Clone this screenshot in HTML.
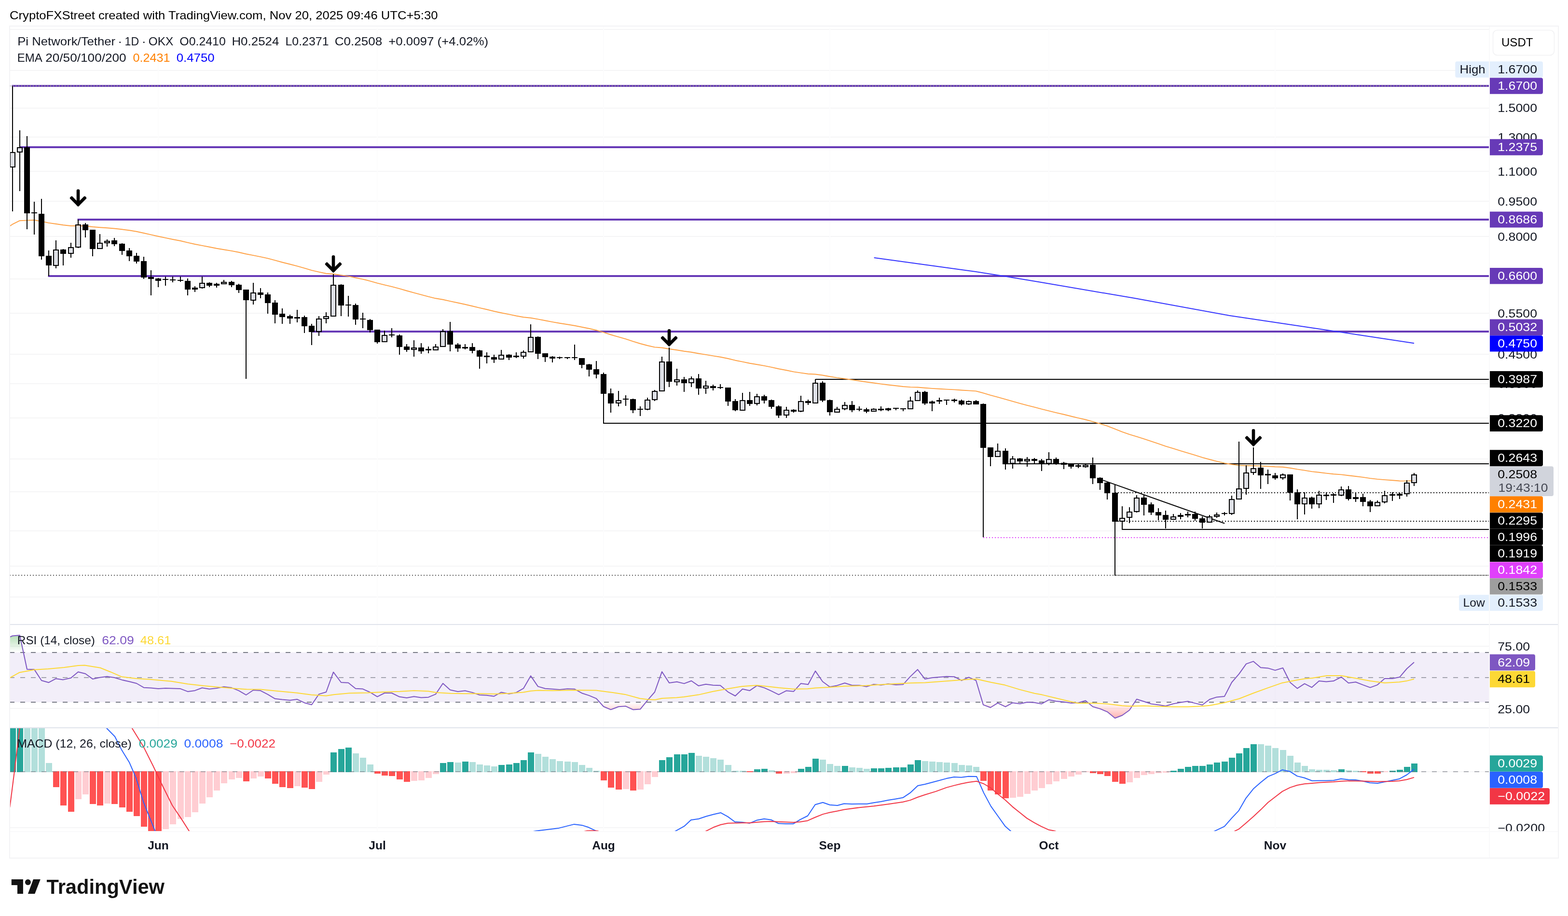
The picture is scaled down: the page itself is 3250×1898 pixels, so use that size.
<!DOCTYPE html>
<html lang="en"><head><meta charset="utf-8"><title>Pi Network/Tether 1D OKX chart</title>
<style>html,body{margin:0;padding:0;background:#fff}body{width:3250px;height:1898px}svg{display:block}text{font-family:'Liberation Sans', Arial, sans-serif;white-space:pre}</style>
</head><body>
<svg width="3250" height="1898" viewBox="0 0 3250 1898">
<defs>
<clipPath id="cm"><rect x="21" y="55" width="3065" height="1238"/></clipPath>
<clipPath id="cr"><rect x="21" y="1295" width="3065" height="212"/></clipPath>
<clipPath id="cd"><rect x="21" y="1509" width="3065" height="213"/></clipPath>
<clipPath id="cob"><rect x="21" y="1295" width="3065" height="56.8"/></clipPath>
<clipPath id="cos"><rect x="21" y="1454.9" width="3065" height="52"/></clipPath>
<clipPath id="cax"><rect x="3086" y="55" width="144" height="1667"/></clipPath>
<linearGradient id="gob" gradientUnits="userSpaceOnUse" x1="0" y1="1300" x2="0" y2="1351.8"><stop offset="0" stop-color="#4caf50" stop-opacity="0.6"/><stop offset="1" stop-color="#4caf50" stop-opacity="0"/></linearGradient>
<linearGradient id="gos" gradientUnits="userSpaceOnUse" x1="0" y1="1454.9" x2="0" y2="1492"><stop offset="0" stop-color="#ff5252" stop-opacity="0"/><stop offset="1" stop-color="#ff5252" stop-opacity="0.5"/></linearGradient>
<g id="arr" fill="#000"><rect x="-3.3" y="-31.6" width="6.6" height="33" rx="2.9"/><rect x="-3.3" y="-22.3" width="6.6" height="25.6" rx="2" transform="rotate(-45)"/><rect x="-3.3" y="-22.3" width="6.6" height="25.6" rx="2" transform="rotate(45)"/></g>
</defs>
<rect width="3250" height="1898" fill="#fff"/>
<text x="20" y="39.8" font-size="24" fill="#000" textLength="887.5" lengthAdjust="spacingAndGlyphs">CryptoFXStreet created with TradingView.com, Nov 20, 2025 09:46 UTC+5:30</text>
<rect x="20" y="54" width="3210" height="1724" fill="none" stroke="#f3f3f5" stroke-width="2"/>
<g stroke="#f5f5f6" stroke-width="2">
<line x1="21" y1="61" x2="3086" y2="61"/>
<line x1="21" y1="146" x2="3086" y2="146"/>
<line x1="21" y1="224" x2="3086" y2="224"/>
<line x1="21" y1="284" x2="3086" y2="284"/>
<line x1="21" y1="355" x2="3086" y2="355"/>
<line x1="21" y1="417" x2="3086" y2="417"/>
<line x1="21" y1="490" x2="3086" y2="490"/>
<line x1="21" y1="578" x2="3086" y2="578"/>
<line x1="21" y1="649" x2="3086" y2="649"/>
<line x1="21" y1="734" x2="3086" y2="734"/>
<line x1="21" y1="795" x2="3086" y2="795"/>
<line x1="21" y1="866" x2="3086" y2="866"/>
<line x1="21" y1="951" x2="3086" y2="951"/>
<line x1="21" y1="1019" x2="3086" y2="1019"/>
<line x1="21" y1="1100" x2="3086" y2="1100"/>
<line x1="21" y1="1173" x2="3086" y2="1173"/>
<line x1="21" y1="1237" x2="3086" y2="1237"/>
<line x1="21" y1="1339" x2="3086" y2="1339"/>
<line x1="21" y1="1468" x2="3086" y2="1468"/>
<line x1="21" y1="1599" x2="3086" y2="1599"/>
<line x1="21" y1="1715" x2="3086" y2="1715"/>
</g>
<g stroke="#fcfcfd" stroke-width="2">
<line x1="328" y1="55" x2="328" y2="1722"/>
<line x1="782" y1="55" x2="782" y2="1722"/>
<line x1="1251" y1="55" x2="1251" y2="1722"/>
<line x1="1720" y1="55" x2="1720" y2="1722"/>
<line x1="2174" y1="55" x2="2174" y2="1722"/>
<line x1="2643" y1="55" x2="2643" y2="1722"/>
</g>
<g clip-path="url(#cm)">
<line x1="24.6" y1="178" x2="3086" y2="178" stroke="#673ab7" stroke-width="4"/>
<line x1="40" y1="305" x2="3086" y2="305" stroke="#673ab7" stroke-width="4"/>
<line x1="160.6" y1="455" x2="3086" y2="455" stroke="#673ab7" stroke-width="4"/>
<line x1="99.6" y1="572" x2="3086" y2="572" stroke="#673ab7" stroke-width="4"/>
<line x1="646.3" y1="687" x2="3086" y2="687" stroke="#673ab7" stroke-width="4"/>
<line x1="1690" y1="786" x2="3086" y2="786" stroke="#000" stroke-width="2"/>
<line x1="1250" y1="877" x2="3086" y2="877" stroke="#000" stroke-width="2"/>
<line x1="2084" y1="961" x2="3086" y2="961" stroke="#000" stroke-width="2"/>
<line x1="2311" y1="1021" x2="3086" y2="1021" stroke="#000" stroke-width="2" stroke-dasharray="2 4"/>
<line x1="2311" y1="1080" x2="3086" y2="1080" stroke="#000" stroke-width="2" stroke-dasharray="2 4"/>
<line x1="2325" y1="1097" x2="3086" y2="1097" stroke="#000" stroke-width="2"/>
<line x1="2038" y1="1114" x2="3086" y2="1114" stroke="#e040fb" stroke-width="2" stroke-dasharray="2 4"/>
<line x1="2311" y1="1192" x2="3086" y2="1192" stroke="#9e9e9e" stroke-width="2"/>
<line x1="2286.2" y1="995.1" x2="2538.2" y2="1084.5" stroke="#000" stroke-width="2"/>
<use href="#arr" x="162" y="423.8"/>
<use href="#arr" x="691" y="560.7"/>
<use href="#arr" x="1387" y="713.7"/>
<use href="#arr" x="2598" y="920.7"/>
<polyline points="20,468.6 26,464.7 41,457.2 56,456.6 71,456 86,458.7 101,461.9 116,464 131,466.2 147,468 162,467.9 177,468.2 192,470 207,471.2 222,472.3 237,473.5 253,475.3 268,477.3 283,479.7 298,483 313,486.4 328,489.7 343,492.9 358,496 374,499 389,502.6 404,506 419,508.9 434,511.8 449,514.7 464,517.2 480,519.9 495,522.8 510,526.3 525,529.1 540,532.1 555,535.4 570,539.4 585,543.5 601,547.5 616,551.3 631,555.6 646,560.1 661,563.6 676,566.8 691,567.7 707,570.1 722,572.4 737,575.5 752,578.6 767,582.3 782,586.6 797,590.3 812,593.9 828,598.2 843,602.5 858,606.6 873,610.7 888,614.7 903,618.3 918,620.8 933,624.1 949,627.5 964,630.8 979,634.2 994,637.8 1009,641.3 1024,645 1039,648.2 1055,651.4 1070,654.5 1085,657.2 1100,658.8 1115,661.4 1130,664.2 1145,667.1 1160,669.7 1176,672.3 1191,674.8 1206,677.7 1221,680.8 1236,684.2 1251,688.6 1266,693.5 1282,698.1 1297,702.4 1312,707.3 1327,712 1342,716 1357,719.4 1372,720.5 1387,723 1403,725.3 1418,727.8 1433,729.8 1448,732.5 1463,734.9 1478,737.4 1493,739.8 1509,743 1524,746.7 1539,749.6 1554,752.7 1569,755.2 1584,757.9 1599,760.9 1614,764.3 1630,767.3 1645,770.4 1660,772.6 1675,774.8 1690,775.5 1705,777.5 1720,780.2 1735,782.6 1751,784.7 1766,787 1781,789.2 1796,791.5 1811,793.5 1826,795.6 1841,797.5 1857,799.3 1872,801 1887,802.1 1902,802.5 1917,803.7 1932,804.9 1947,805.8 1962,806.6 1978,807.4 1993,808.5 2008,809.4 2023,810.4 2038,814.4 2053,818.9 2068,822.8 2084,827.4 2099,831.6 2114,835.8 2129,839.8 2144,843.7 2159,847.7 2174,851.3 2189,855.1 2205,858.8 2220,862.5 2235,866.1 2250,869.5 2265,873.6 2280,877.9 2295,882.7 2311,888.9 2326,894.8 2341,900.2 2356,904.6 2371,909.4 2386,914.4 2401,919.4 2416,924.6 2432,929.4 2447,934.2 2462,938.6 2477,943.2 2492,947.8 2507,952 2522,955.9 2538,959.7 2553,962.3 2568,964.2 2583,964.7 2598,964.9 2613,965.6 2628,966.3 2643,967.2 2659,967.8 2674,969.7 2689,972.4 2704,974.6 2719,977.1 2734,978.8 2749,980.6 2764,982.2 2780,983.4 2795,985.2 2810,987 2825,988.9 2840,991.1 2855,992.9 2870,994.1 2886,995.3 2901,996.5 2916,996.6 2931,996" fill="none" stroke="#ffa145" stroke-width="1.9" stroke-linejoin="round"/>
<polyline points="1811.7,534.1 2020.8,562.7 2079.9,572 2153.7,584.3 2350.6,617.8 2547.4,653.7 2768.9,686.7 2931,711.3" fill="none" stroke="#3333ff" stroke-width="2" stroke-linejoin="round"/>
<path d="M26,178V315M26,347V438M41,270V305M41,316V396M56,282V305M56,442V475M71,418V440M71,442V486M86,412V443M86,531V538M101,519V530M101,550V572M116,498V517M116,551V556M131,516V517M131,526V550M147,503V512M147,526V534M162,455V465M162,513V514M177,462V465M177,477V492M192,516V531M207,485V503M222,496V499M222,504V511M237,493V498M237,506V510M253,504V505M253,520V528M268,514V519M268,531V541M283,524V530M283,542V546M298,532V541M298,575V578M313,560V574M313,578V612M328,576V577M328,582V595M343,573V578M343,580V592M358,573V579M358,581V585M374,573V580M374,582V584M389,577V582M389,600V612M404,593V596M404,600V605M419,573V586M419,597V598M434,585V586M434,592V595M449,586V588M449,592V596M464,580V584M480,582V584M480,591V595M495,588V590M495,601V607M510,622V785M525,586V606M525,623V631M540,597V606M540,611V618M555,606V610M555,628V650M570,622V627M570,652V670M585,639V650M585,657V671M601,652V655M601,660V671M616,642V657M616,660V668M631,654V657M631,676V690M646,671V675M646,688V715M661,655V660M661,688V696M676,647V655M676,661V670M691,568V590M707,589V590M707,633V655M722,613V631M722,633V656M737,629V632M737,662V673M752,648V660M752,662V680M767,661V663M767,684V689M782,709V712M797,685V694M812,680V693M812,695V699M828,693V695M828,719V735M843,713V718M843,725V729M858,705V720M858,725V739M873,711V720M873,728V733M888,718V723M888,726V732M903,713V718M918,682V686M933,667V686M933,714V728M949,711V714M949,722V729M964,713V719M964,722V724M979,711V719M979,727V732M994,725V726M994,739V764M1009,730V737M1009,740V753M1024,735V740M1024,745V752M1039,725V735M1055,734V735M1055,741V746M1070,730V737M1070,740V742M1085,726V729M1085,739V743M1100,672V698M1115,697V698M1115,733V744M1130,740V750M1145,738V739M1145,743V751M1160,739V740M1160,742V744M1176,742V744M1191,714V740M1191,742V746M1206,756V763M1221,754V755M1221,766V780M1236,748V765M1236,776V784M1251,772V775M1251,816V877M1266,805V815M1266,836V855M1282,810V829M1282,836V842M1297,819V826M1297,828V841M1312,826V827M1312,850V856M1327,842V847M1327,849V862M1342,824V828M1342,849V850M1357,808V810M1357,829V831M1372,739V749M1387,720V749M1387,791V802M1403,764V786M1403,792V799M1418,781V786M1418,794V812M1433,780V784M1433,794V802M1448,775V784M1448,805V818M1463,789V799M1463,805V816M1478,797V800M1478,804V809M1493,796V802M1493,804V806M1509,832V841M1524,827V831M1524,850V852M1539,814V829M1554,812V829M1554,837V841M1569,816V821M1569,837V840M1584,818V821M1584,830V836M1599,828V829M1599,843V847M1614,840V842M1614,861V866M1630,843V849M1630,861V866M1645,848V849M1645,853V855M1660,820V831M1660,853V854M1675,828V831M1675,835V839M1690,786V793M1705,790V793M1705,830V833M1720,828V829M1720,854V861M1735,843V847M1751,833V839M1751,848V850M1766,831V839M1766,850V854M1781,842V847M1781,849V852M1796,845V848M1796,853V856M1811,846V847M1826,842V847M1826,850V852M1841,845V846M1841,850V852M1857,847V850M1872,848V852M1887,822V830M1902,809V812M1917,810V812M1917,836V839M1932,830V832M1932,836V852M1947,824V829M1947,832V837M1962,830V839M1978,826V828M1978,831V834M1993,828V830M1993,838V840M2008,830V831M2008,838V839M2023,829V831M2038,836V837M2038,928V1113M2053,947V966M2068,919V934M2084,929V934M2084,962V973M2099,945V950M2099,961V971M2114,949V950M2114,956V961M2129,947V951M2129,956V967M2144,949V951M2144,955V961M2159,951V954M2159,961V976M2174,937V951M2174,961V964M2189,948V951M2189,962V963M2205,957V959M2205,963V972M2220,967V971M2235,962V964M2235,967V970M2250,962V963M2250,968V969M2265,948V963M2265,991V1003M2280,989V990M2280,1001V1015M2295,999V1000M2295,1022V1035M2311,1004V1021M2311,1081V1193M2326,1049V1073M2326,1081V1097M2341,1051V1060M2341,1073V1084M2356,1026V1031M2356,1061V1062M2371,1024V1031M2371,1046V1068M2386,1041V1045M2386,1062V1067M2401,1053V1061M2401,1068V1078M2416,1058V1067M2416,1077V1095M2432,1065V1070M2447,1063V1067M2447,1071V1076M2462,1060V1065M2462,1068V1072M2477,1060V1065M2477,1075V1079M2492,1070V1074M2492,1083V1095M2507,1067V1070M2522,1062V1066M2522,1071V1073M2538,1061V1063M2538,1065V1068M2553,1027V1034M2553,1065V1067M2568,915V1012M2583,964V979M2583,1013V1025M2598,927V970M2598,980V984M2613,957V969M2613,985V1013M2628,973V982M2628,985V1003M2643,980V985M2643,991V994M2659,981V983M2659,991V994M2674,1021V1037M2689,1014V1020M2689,1045V1076M2704,1020V1031M2704,1045V1066M2719,1029V1031M2719,1045V1054M2734,1017V1025M2734,1045V1053M2749,1020V1025M2749,1028V1036M2764,1022V1024M2764,1027V1042M2780,1008V1014M2780,1027V1028M2795,1007V1014M2795,1034V1037M2810,1020V1030M2810,1034V1040M2825,1023V1030M2825,1040V1049M2840,1036V1039M2840,1049V1061M2855,1037V1040M2870,1017V1026M2870,1041V1043M2886,1020V1024M2886,1027V1038M2901,1021V1023M2901,1027V1034M2916,995V1000M2916,1024V1029M2931,980V983M2931,1001V1007" stroke="#000" stroke-width="2" fill="none"/>
<path d="M50,305h12v137h-12zM65,440h12v2h-12zM80,443h12v88h-12zM95,530h12v20h-12zM125,517h12v9h-12zM171,465h12v12h-12zM186,476h12v40h-12zM231,498h12v8h-12zM247,505h12v15h-12zM262,519h12v12h-12zM277,530h12v12h-12zM292,541h12v34h-12zM307,574h12v4h-12zM322,577h12v5h-12zM337,578h12v2h-12zM352,579h12v2h-12zM368,580h12v2h-12zM383,582h12v18h-12zM398,596h12v4h-12zM428,586h12v6h-12zM443,588h12v4h-12zM474,584h12v7h-12zM489,590h12v11h-12zM504,600h12v22h-12zM534,606h12v5h-12zM549,610h12v18h-12zM564,627h12v25h-12zM579,650h12v7h-12zM595,655h12v5h-12zM610,657h12v3h-12zM625,657h12v19h-12zM640,675h12v13h-12zM701,590h12v43h-12zM716,631h12v2h-12zM731,632h12v30h-12zM746,660h12v2h-12zM761,663h12v21h-12zM776,683h12v26h-12zM806,693h12v2h-12zM822,695h12v24h-12zM837,718h12v7h-12zM867,720h12v8h-12zM882,723h12v3h-12zM927,686h12v28h-12zM943,714h12v8h-12zM958,719h12v3h-12zM973,719h12v8h-12zM988,726h12v13h-12zM1003,737h12v3h-12zM1018,740h12v5h-12zM1049,735h12v6h-12zM1064,737h12v3h-12zM1109,698h12v35h-12zM1124,732h12v8h-12zM1139,739h12v4h-12zM1154,740h12v2h-12zM1170,740h12v2h-12zM1185,740h12v2h-12zM1200,742h12v14h-12zM1215,755h12v11h-12zM1230,765h12v11h-12zM1245,775h12v41h-12zM1260,815h12v21h-12zM1291,826h12v2h-12zM1306,827h12v23h-12zM1321,847h12v2h-12zM1381,749h12v42h-12zM1412,786h12v8h-12zM1442,784h12v21h-12zM1472,800h12v4h-12zM1487,802h12v2h-12zM1503,803h12v29h-12zM1518,831h12v19h-12zM1548,829h12v8h-12zM1578,821h12v9h-12zM1593,829h12v14h-12zM1608,842h12v19h-12zM1639,849h12v4h-12zM1669,831h12v4h-12zM1699,793h12v37h-12zM1714,829h12v25h-12zM1760,839h12v11h-12zM1775,847h12v2h-12zM1790,848h12v5h-12zM1820,847h12v3h-12zM1835,846h12v4h-12zM1851,845h12v2h-12zM1866,846h12v2h-12zM1911,812h12v24h-12zM1926,832h12v4h-12zM1941,829h12v3h-12zM1956,828h12v2h-12zM1972,828h12v3h-12zM1987,830h12v8h-12zM2017,831h12v7h-12zM2032,837h12v91h-12zM2047,927h12v20h-12zM2078,934h12v28h-12zM2108,950h12v6h-12zM2138,951h12v4h-12zM2153,954h12v7h-12zM2183,951h12v11h-12zM2199,959h12v4h-12zM2214,962h12v5h-12zM2229,964h12v3h-12zM2259,963h12v28h-12zM2274,990h12v11h-12zM2289,1000h12v22h-12zM2305,1021h12v60h-12zM2365,1031h12v15h-12zM2380,1045h12v17h-12zM2395,1061h12v7h-12zM2410,1067h12v10h-12zM2441,1067h12v4h-12zM2456,1065h12v3h-12zM2471,1065h12v10h-12zM2486,1074h12v9h-12zM2532,1063h12v2h-12zM2607,969h12v16h-12zM2622,982h12v3h-12zM2637,985h12v6h-12zM2668,983h12v38h-12zM2683,1020h12v25h-12zM2713,1031h12v14h-12zM2743,1025h12v3h-12zM2758,1024h12v3h-12zM2789,1014h12v20h-12zM2804,1030h12v4h-12zM2819,1030h12v10h-12zM2834,1039h12v10h-12zM2880,1024h12v3h-12zM2895,1023h12v4h-12z" fill="#000"/>
<g fill="#d1d4dc" fill-opacity="0.72" stroke="#000" stroke-width="2"><rect x="21" y="316" width="10" height="30"/><rect x="36" y="306" width="10" height="9"/><rect x="111" y="518" width="10" height="32"/><rect x="142" y="513" width="10" height="12"/><rect x="157" y="466" width="10" height="46"/><rect x="202" y="504" width="10" height="11"/><rect x="217" y="500" width="10" height="3"/><rect x="414" y="587" width="10" height="9"/><rect x="459" y="585" width="10" height="3"/><rect x="520" y="607" width="10" height="15"/><rect x="656" y="661" width="10" height="26"/><rect x="671" y="656" width="10" height="4"/><rect x="686" y="591" width="10" height="64"/><rect x="792" y="695" width="10" height="13"/><rect x="853" y="721" width="10" height="3"/><rect x="898" y="719" width="10" height="6"/><rect x="913" y="687" width="10" height="31"/><rect x="1034" y="736" width="10" height="8"/><rect x="1080" y="730" width="10" height="8"/><rect x="1095" y="699" width="10" height="30"/><rect x="1277" y="830" width="10" height="5"/><rect x="1337" y="829" width="10" height="19"/><rect x="1352" y="811" width="10" height="17"/><rect x="1367" y="750" width="10" height="60"/><rect x="1398" y="787" width="10" height="4"/><rect x="1428" y="785" width="10" height="8"/><rect x="1458" y="800" width="10" height="4"/><rect x="1534" y="830" width="10" height="20"/><rect x="1564" y="822" width="10" height="14"/><rect x="1625" y="850" width="10" height="10"/><rect x="1655" y="832" width="10" height="20"/><rect x="1685" y="794" width="10" height="41"/><rect x="1730" y="848" width="10" height="6"/><rect x="1746" y="840" width="10" height="7"/><rect x="1806" y="848" width="10" height="4"/><rect x="1882" y="831" width="10" height="16"/><rect x="1897" y="813" width="10" height="17"/><rect x="2003" y="832" width="10" height="5"/><rect x="2063" y="935" width="10" height="11"/><rect x="2094" y="951" width="10" height="9"/><rect x="2124" y="952" width="10" height="3"/><rect x="2169" y="952" width="10" height="8"/><rect x="2245" y="964" width="10" height="3"/><rect x="2321" y="1074" width="10" height="6"/><rect x="2336" y="1061" width="10" height="11"/><rect x="2351" y="1032" width="10" height="28"/><rect x="2427" y="1071" width="10" height="5"/><rect x="2502" y="1071" width="10" height="11"/><rect x="2517" y="1067" width="10" height="3"/><rect x="2548" y="1035" width="10" height="29"/><rect x="2563" y="1013" width="10" height="21"/><rect x="2578" y="980" width="10" height="32"/><rect x="2593" y="971" width="10" height="8"/><rect x="2654" y="984" width="10" height="6"/><rect x="2699" y="1032" width="10" height="12"/><rect x="2729" y="1026" width="10" height="18"/><rect x="2775" y="1015" width="10" height="11"/><rect x="2850" y="1041" width="10" height="7"/><rect x="2865" y="1027" width="10" height="13"/><rect x="2911" y="1001" width="10" height="22"/><rect x="2926" y="984" width="10" height="16"/></g>
<line x1="20" y1="178" x2="3086" y2="178" stroke="#9b9b86" stroke-width="2" stroke-dasharray="2 4"/>
<line x1="20" y1="1192" x2="3086" y2="1192" stroke="#5f5f5f" stroke-width="2" stroke-dasharray="2 4"/>
</g>
<g clip-path="url(#cr)">
<rect x="21" y="1352" width="3065" height="103" fill="#7e57c2" fill-opacity="0.1"/>
<line x1="20" y1="1352" x2="3086" y2="1352" stroke="#787b86" stroke-width="2" stroke-dasharray="10 12"/>
<line x1="20" y1="1404" x2="3086" y2="1404" stroke="#787b86" stroke-width="2" stroke-dasharray="10 12" stroke-opacity="0.65"/>
<line x1="20" y1="1455" x2="3086" y2="1455" stroke="#787b86" stroke-width="2" stroke-dasharray="10 12"/>
<polygon clip-path="url(#cob)" points="21,1351.8 21,1319.6 26,1317.5 41,1316.2 56,1386.7 71,1387.1 86,1410 101,1414.2 116,1406.2 131,1408.4 147,1404.7 162,1392.2 177,1396 192,1406.9 207,1403.8 222,1401.8 237,1404 253,1408.9 268,1412.2 283,1416 298,1424.7 313,1425.6 328,1426.9 343,1426 358,1426.4 374,1427.1 389,1432.9 404,1430.9 419,1425.3 434,1427.8 449,1426 464,1422.9 480,1425.1 495,1431.1 510,1440 525,1430 540,1431.1 555,1438.9 570,1447.8 585,1449.6 601,1451.1 616,1449.1 631,1456.2 646,1460.2 661,1438.4 676,1434 691,1392.7 707,1414 722,1414.7 737,1426.7 752,1427.6 767,1434.4 782,1443.6 797,1436 812,1436 828,1443.8 843,1446 858,1443.3 873,1445.6 888,1444.7 903,1438.4 918,1416 933,1429.6 949,1432.9 964,1431.3 979,1434.9 994,1440 1009,1440.7 1024,1442.7 1039,1434.4 1055,1437.8 1070,1434.9 1085,1426.4 1100,1400.4 1115,1422.4 1130,1426.7 1145,1427.8 1160,1428.9 1176,1427.3 1191,1427.8 1206,1436.2 1221,1441.1 1236,1447.3 1251,1464 1266,1470.4 1282,1464.2 1297,1463.3 1312,1470.4 1327,1469.6 1342,1451.1 1357,1434 1372,1391.8 1387,1414.9 1403,1412.7 1418,1416.4 1433,1410.7 1448,1421.1 1463,1417.8 1478,1419.8 1493,1420.2 1509,1433.8 1524,1442 1539,1427.8 1554,1430.9 1569,1420.7 1584,1425.1 1599,1431.8 1614,1439.3 1630,1431.2 1645,1432.7 1660,1416.2 1675,1418.2 1690,1390.4 1705,1412.2 1720,1423.3 1735,1420.4 1751,1415.3 1766,1420 1781,1420 1796,1422.7 1811,1418 1826,1419.6 1841,1417.1 1857,1418.9 1872,1418.2 1887,1401.6 1902,1387.3 1917,1406.9 1932,1404.2 1947,1402.9 1962,1401.8 1978,1402.2 1993,1410 2008,1403.3 2023,1410 2038,1460.4 2053,1466 2068,1456.7 2084,1464.4 2099,1456.2 2114,1458.2 2129,1454.9 2144,1455.8 2159,1458.4 2174,1450 2189,1452.9 2205,1454.4 2220,1456.7 2235,1456.2 2250,1451.8 2265,1464.2 2280,1468.6 2295,1474.8 2311,1488 2326,1482.2 2341,1471.5 2356,1448.8 2371,1453.5 2386,1458.5 2401,1460.5 2416,1463 2432,1458.3 2447,1455.6 2462,1453.2 2477,1457.1 2492,1460.7 2507,1449.3 2522,1444.4 2538,1442.9 2553,1414 2568,1396.7 2583,1375.6 2598,1370.4 2613,1383.3 2628,1384.4 2643,1388.9 2659,1384 2674,1414 2689,1426.4 2704,1416.7 2719,1424.3 2734,1411.1 2749,1412.5 2764,1411.1 2780,1402.8 2795,1415.3 2810,1413.2 2825,1419.1 2840,1424.6 2855,1419.1 2870,1405.9 2886,1405.9 2901,1403.1 2916,1385.5 2931,1372.3 2931,1351.8" fill="url(#gob)"/>
<polygon clip-path="url(#cos)" points="21,1454.9 21,1319.6 26,1317.5 41,1316.2 56,1386.7 71,1387.1 86,1410 101,1414.2 116,1406.2 131,1408.4 147,1404.7 162,1392.2 177,1396 192,1406.9 207,1403.8 222,1401.8 237,1404 253,1408.9 268,1412.2 283,1416 298,1424.7 313,1425.6 328,1426.9 343,1426 358,1426.4 374,1427.1 389,1432.9 404,1430.9 419,1425.3 434,1427.8 449,1426 464,1422.9 480,1425.1 495,1431.1 510,1440 525,1430 540,1431.1 555,1438.9 570,1447.8 585,1449.6 601,1451.1 616,1449.1 631,1456.2 646,1460.2 661,1438.4 676,1434 691,1392.7 707,1414 722,1414.7 737,1426.7 752,1427.6 767,1434.4 782,1443.6 797,1436 812,1436 828,1443.8 843,1446 858,1443.3 873,1445.6 888,1444.7 903,1438.4 918,1416 933,1429.6 949,1432.9 964,1431.3 979,1434.9 994,1440 1009,1440.7 1024,1442.7 1039,1434.4 1055,1437.8 1070,1434.9 1085,1426.4 1100,1400.4 1115,1422.4 1130,1426.7 1145,1427.8 1160,1428.9 1176,1427.3 1191,1427.8 1206,1436.2 1221,1441.1 1236,1447.3 1251,1464 1266,1470.4 1282,1464.2 1297,1463.3 1312,1470.4 1327,1469.6 1342,1451.1 1357,1434 1372,1391.8 1387,1414.9 1403,1412.7 1418,1416.4 1433,1410.7 1448,1421.1 1463,1417.8 1478,1419.8 1493,1420.2 1509,1433.8 1524,1442 1539,1427.8 1554,1430.9 1569,1420.7 1584,1425.1 1599,1431.8 1614,1439.3 1630,1431.2 1645,1432.7 1660,1416.2 1675,1418.2 1690,1390.4 1705,1412.2 1720,1423.3 1735,1420.4 1751,1415.3 1766,1420 1781,1420 1796,1422.7 1811,1418 1826,1419.6 1841,1417.1 1857,1418.9 1872,1418.2 1887,1401.6 1902,1387.3 1917,1406.9 1932,1404.2 1947,1402.9 1962,1401.8 1978,1402.2 1993,1410 2008,1403.3 2023,1410 2038,1460.4 2053,1466 2068,1456.7 2084,1464.4 2099,1456.2 2114,1458.2 2129,1454.9 2144,1455.8 2159,1458.4 2174,1450 2189,1452.9 2205,1454.4 2220,1456.7 2235,1456.2 2250,1451.8 2265,1464.2 2280,1468.6 2295,1474.8 2311,1488 2326,1482.2 2341,1471.5 2356,1448.8 2371,1453.5 2386,1458.5 2401,1460.5 2416,1463 2432,1458.3 2447,1455.6 2462,1453.2 2477,1457.1 2492,1460.7 2507,1449.3 2522,1444.4 2538,1442.9 2553,1414 2568,1396.7 2583,1375.6 2598,1370.4 2613,1383.3 2628,1384.4 2643,1388.9 2659,1384 2674,1414 2689,1426.4 2704,1416.7 2719,1424.3 2734,1411.1 2749,1412.5 2764,1411.1 2780,1402.8 2795,1415.3 2810,1413.2 2825,1419.1 2840,1424.6 2855,1419.1 2870,1405.9 2886,1405.9 2901,1403.1 2916,1385.5 2931,1372.3 2931,1454.9" fill="url(#gos)"/>
<polyline points="21,1319.6 26,1317.5 41,1316.2 56,1386.7 71,1387.1 86,1410 101,1414.2 116,1406.2 131,1408.4 147,1404.7 162,1392.2 177,1396 192,1406.9 207,1403.8 222,1401.8 237,1404 253,1408.9 268,1412.2 283,1416 298,1424.7 313,1425.6 328,1426.9 343,1426 358,1426.4 374,1427.1 389,1432.9 404,1430.9 419,1425.3 434,1427.8 449,1426 464,1422.9 480,1425.1 495,1431.1 510,1440 525,1430 540,1431.1 555,1438.9 570,1447.8 585,1449.6 601,1451.1 616,1449.1 631,1456.2 646,1460.2 661,1438.4 676,1434 691,1392.7 707,1414 722,1414.7 737,1426.7 752,1427.6 767,1434.4 782,1443.6 797,1436 812,1436 828,1443.8 843,1446 858,1443.3 873,1445.6 888,1444.7 903,1438.4 918,1416 933,1429.6 949,1432.9 964,1431.3 979,1434.9 994,1440 1009,1440.7 1024,1442.7 1039,1434.4 1055,1437.8 1070,1434.9 1085,1426.4 1100,1400.4 1115,1422.4 1130,1426.7 1145,1427.8 1160,1428.9 1176,1427.3 1191,1427.8 1206,1436.2 1221,1441.1 1236,1447.3 1251,1464 1266,1470.4 1282,1464.2 1297,1463.3 1312,1470.4 1327,1469.6 1342,1451.1 1357,1434 1372,1391.8 1387,1414.9 1403,1412.7 1418,1416.4 1433,1410.7 1448,1421.1 1463,1417.8 1478,1419.8 1493,1420.2 1509,1433.8 1524,1442 1539,1427.8 1554,1430.9 1569,1420.7 1584,1425.1 1599,1431.8 1614,1439.3 1630,1431.2 1645,1432.7 1660,1416.2 1675,1418.2 1690,1390.4 1705,1412.2 1720,1423.3 1735,1420.4 1751,1415.3 1766,1420 1781,1420 1796,1422.7 1811,1418 1826,1419.6 1841,1417.1 1857,1418.9 1872,1418.2 1887,1401.6 1902,1387.3 1917,1406.9 1932,1404.2 1947,1402.9 1962,1401.8 1978,1402.2 1993,1410 2008,1403.3 2023,1410 2038,1460.4 2053,1466 2068,1456.7 2084,1464.4 2099,1456.2 2114,1458.2 2129,1454.9 2144,1455.8 2159,1458.4 2174,1450 2189,1452.9 2205,1454.4 2220,1456.7 2235,1456.2 2250,1451.8 2265,1464.2 2280,1468.6 2295,1474.8 2311,1488 2326,1482.2 2341,1471.5 2356,1448.8 2371,1453.5 2386,1458.5 2401,1460.5 2416,1463 2432,1458.3 2447,1455.6 2462,1453.2 2477,1457.1 2492,1460.7 2507,1449.3 2522,1444.4 2538,1442.9 2553,1414 2568,1396.7 2583,1375.6 2598,1370.4 2613,1383.3 2628,1384.4 2643,1388.9 2659,1384 2674,1414 2689,1426.4 2704,1416.7 2719,1424.3 2734,1411.1 2749,1412.5 2764,1411.1 2780,1402.8 2795,1415.3 2810,1413.2 2825,1419.1 2840,1424.6 2855,1419.1 2870,1405.9 2886,1405.9 2901,1403.1 2916,1385.5 2931,1372.3" fill="none" stroke="#7e57c2" stroke-width="2" stroke-linejoin="round"/>
<polyline points="20,1404.7 40,1393.6 71,1387.8 100,1386 133,1382.9 162,1378.9 175.6,1378.4 207.8,1383.8 228.9,1392.2 251.8,1402.2 282.2,1406 311,1407.8 355.6,1411.8 388.9,1417.3 422.2,1421.1 455.6,1424 488.9,1426.7 511,1428.2 540,1428.4 573.3,1431.8 615.6,1435.8 645.6,1439.8 676,1441.8 692,1439.3 724.4,1436.2 762.2,1435.6 797.8,1433.8 828.9,1432.7 858.2,1430.9 887.8,1432.2 904.4,1435.1 933.8,1436.7 962.2,1437.3 994.4,1437.3 1024.4,1438 1054.4,1436.7 1084.4,1434.4 1100,1431.8 1115.6,1430.4 1145.6,1431.1 1191,1430 1235.6,1430.4 1265.8,1434.4 1295.6,1438.9 1326.2,1447.3 1342.2,1449.3 1357.8,1450 1371.8,1447.1 1402.2,1445.6 1417.8,1444 1447.8,1439.6 1477.8,1432.7 1507.8,1427.3 1537.8,1422.2 1568.9,1420 1598.9,1423.3 1614,1425.1 1644,1427.8 1674,1427.3 1690,1425.6 1720,1424 1750,1421.8 1795.6,1420.4 1826.7,1418.4 1856.7,1416.7 1886.7,1415.3 1917.8,1414.4 1947.8,1412.2 1978.2,1410 2007.8,1407.8 2024,1407.1 2053.8,1413.8 2083.3,1419.6 2113.8,1428.9 2144.4,1436.7 2160,1439.6 2189.6,1446.7 2219.6,1454 2234.4,1457.1 2265.6,1457.1 2295.6,1458.4 2325.6,1462.2 2340.4,1463.3 2371.1,1462.4 2401.1,1463.8 2431.6,1464.4 2461.8,1464.4 2491.6,1463.3 2507.8,1461.8 2537.8,1456 2568.4,1447.8 2597.8,1436.2 2628.4,1425.1 2657.8,1414.9 2688.4,1409.1 2703.8,1406.4 2720,1404.9 2750.3,1400 2779.7,1400 2809.2,1405.2 2840.4,1411.1 2869.8,1414.9 2900.3,1413.2 2914.9,1411.1 2931,1407" fill="none" stroke="#fdd835" stroke-width="2" stroke-linejoin="round"/>
</g>
<g clip-path="url(#cd)">
<path d="M20,1500h13v100h-13zM35,1500h13v100h-13zM685,1559h13v41h-13zM701,1552h13v48h-13zM716,1549h13v51h-13zM912,1581h13v19h-13zM927,1579h13v21h-13zM958,1578h13v22h-13zM1033,1585h13v15h-13zM1049,1584h13v16h-13zM1064,1581h13v19h-13zM1079,1575h13v25h-13zM1094,1559h13v41h-13zM1366,1575h13v25h-13zM1381,1569h13v31h-13zM1397,1563h13v37h-13zM1412,1563h13v37h-13zM1427,1560h13v40h-13zM1563,1594h13v6h-13zM1578,1593h13v7h-13zM1654,1593h13v7h-13zM1669,1589h13v11h-13zM1684,1572h13v28h-13zM1745,1587h13v13h-13zM1805,1592h13v8h-13zM1820,1592h13v8h-13zM1835,1591h13v9h-13zM1851,1590h13v10h-13zM1866,1590h13v10h-13zM1881,1584h13v16h-13zM1896,1575h13v25h-13zM2426,1597h13v3h-13zM2441,1593h13v7h-13zM2456,1589h13v11h-13zM2471,1587h13v13h-13zM2486,1587h13v13h-13zM2501,1584h13v16h-13zM2516,1580h13v20h-13zM2532,1578h13v22h-13zM2547,1570h13v30h-13zM2562,1561h13v39h-13zM2577,1550h13v50h-13zM2592,1542h13v58h-13zM2774,1594h13v6h-13zM2880,1597h13v3h-13zM2895,1595h13v5h-13zM2910,1589h13v11h-13zM2925,1582h13v18h-13z" fill="#26a69a"/>
<path d="M50,1500h13v100h-13zM65,1500h13v100h-13zM80,1500h13v100h-13zM95,1581h13v19h-13zM731,1561h13v39h-13zM746,1570h13v30h-13zM761,1584h13v16h-13zM943,1580h13v20h-13zM973,1579h13v21h-13zM988,1584h13v16h-13zM1003,1586h13v14h-13zM1018,1588h13v12h-13zM1109,1562h13v38h-13zM1124,1568h13v32h-13zM1139,1573h13v27h-13zM1154,1577h13v23h-13zM1170,1578h13v22h-13zM1185,1579h13v21h-13zM1200,1585h13v15h-13zM1215,1591h13v9h-13zM1230,1597h13v3h-13zM1442,1566h13v34h-13zM1457,1568h13v32h-13zM1472,1571h13v29h-13zM1487,1574h13v26h-13zM1503,1585h13v15h-13zM1518,1597h13v3h-13zM1533,1597h13v3h-13zM1593,1596h13v4h-13zM1699,1574h13v26h-13zM1714,1583h13v17h-13zM1729,1587h13v13h-13zM1760,1590h13v10h-13zM1775,1591h13v9h-13zM1790,1593h13v7h-13zM1911,1577h13v23h-13zM1926,1578h13v22h-13zM1941,1579h13v21h-13zM1956,1580h13v20h-13zM1972,1581h13v19h-13zM1987,1585h13v15h-13zM2002,1586h13v14h-13zM2017,1589h13v11h-13zM2607,1542h13v58h-13zM2622,1545h13v55h-13zM2637,1550h13v50h-13zM2653,1554h13v46h-13zM2668,1566h13v34h-13zM2683,1580h13v20h-13zM2698,1587h13v13h-13zM2713,1594h13v6h-13zM2728,1595h13v5h-13zM2743,1595h13v5h-13zM2758,1596h13v4h-13zM2789,1596h13v4h-13zM2804,1597h13v3h-13z" fill="#b2dfdb"/>
<path d="M110,1598h13v33h-13zM125,1598h13v71h-13zM141,1598h13v84h-13zM186,1598h13v68h-13zM201,1598h13v71h-13zM231,1598h13v68h-13zM247,1598h13v75h-13zM262,1598h13v84h-13zM277,1598h13v93h-13zM292,1598h13v115h-13zM307,1598h13v132h-13zM322,1598h13v132h-13zM504,1598h13v21h-13zM549,1598h13v15h-13zM564,1598h13v26h-13zM579,1598h13v33h-13zM595,1598h13v35h-13zM625,1598h13v34h-13zM640,1598h13v37h-13zM776,1598h13v5h-13zM791,1598h13v9h-13zM806,1598h13v10h-13zM822,1598h13v17h-13zM837,1598h13v22h-13zM1245,1598h13v19h-13zM1260,1598h13v34h-13zM1276,1598h13v38h-13zM1306,1598h13v40h-13zM1548,1598h13v2h-13zM1608,1598h13v5h-13zM2032,1598h13v20h-13zM2047,1598h13v40h-13zM2062,1598h13v48h-13zM2078,1598h13v56h-13zM2259,1598h13v4h-13zM2274,1598h13v6h-13zM2289,1598h13v10h-13zM2305,1598h13v22h-13zM2320,1598h13v26h-13zM2819,1598h13v2h-13zM2834,1598h13v5h-13zM2849,1598h13v5h-13z" fill="#ff5252"/>
<path d="M156,1598h13v58h-13zM171,1598h13v48h-13zM216,1598h13v67h-13zM337,1598h13v120h-13zM352,1598h13v110h-13zM368,1598h13v99h-13zM383,1598h13v95h-13zM398,1598h13v85h-13zM413,1598h13v67h-13zM428,1598h13v54h-13zM443,1598h13v40h-13zM458,1598h13v25h-13zM474,1598h13v17h-13zM489,1598h13v14h-13zM519,1598h13v15h-13zM534,1598h13v11h-13zM610,1598h13v31h-13zM655,1598h13v22h-13zM670,1598h13v7h-13zM852,1598h13v20h-13zM867,1598h13v19h-13zM882,1598h13v14h-13zM897,1598h13v6h-13zM1291,1598h13v37h-13zM1321,1598h13v38h-13zM1336,1598h13v27h-13zM1351,1598h13v12h-13zM1624,1598h13v5h-13zM1639,1598h13v4h-13zM2093,1598h13v55h-13zM2108,1598h13v53h-13zM2123,1598h13v47h-13zM2138,1598h13v40h-13zM2153,1598h13v35h-13zM2168,1598h13v27h-13zM2183,1598h13v21h-13zM2199,1598h13v16h-13zM2214,1598h13v11h-13zM2229,1598h13v7h-13zM2244,1598h13v2h-13zM2335,1598h13v23h-13zM2350,1598h13v14h-13zM2365,1598h13v8h-13zM2380,1598h13v6h-13zM2395,1598h13v4h-13zM2410,1598h13v3h-13zM2864,1598h13v2h-13z" fill="#ffcdd2"/>
<line x1="20" y1="1599" x2="3086" y2="1599" stroke="#787b86" stroke-width="2" stroke-dasharray="10 12" stroke-opacity="0.6"/>
<polyline points="215,1495 221.2,1509 238.1,1526.2 252,1553.6 267.9,1579.4 281.7,1611.1 297.6,1662.7 321.4,1721.8 330,1745" fill="none" stroke="#2962ff" stroke-width="2" stroke-linejoin="round"/>
<polyline points="1090,1726 1110.8,1721.8 1158.4,1715.9 1190.2,1707.9 1206,1709.9 1219.9,1714.3 1235.8,1721.8 1245,1727" fill="none" stroke="#2962ff" stroke-width="2" stroke-linejoin="round"/>
<polyline points="1390,1728 1400.5,1721.8 1418.3,1711.9 1432.2,1699 1448.1,1696.8 1463.8,1691.5 1478.7,1687.5 1494,1684.1 1508.5,1692.1 1523.3,1703 1538.2,1703.8 1553.5,1705.8 1569,1699.4 1583.8,1696.8 1598.7,1698.8 1613.6,1706.3 1628.5,1706.9 1644.4,1706.9 1658.3,1698.4 1674.1,1690.5 1689.6,1667.3 1705.5,1662.7 1719.8,1667.7 1735.6,1669 1749.5,1665.3 1765.4,1666.1 1781.3,1665.7 1797.1,1665.7 1811,1663.3 1825.9,1661.1 1840.8,1658.1 1856.7,1655.4 1871.5,1652.8 1886.4,1642.9 1902.3,1628 1917.2,1625 1939.8,1619 1961.7,1613.1 1977.5,1610.1 1992.4,1610.7 2007.3,1608.7 2024.2,1609.1 2039,1642.9 2053.9,1670.6 2068.8,1691.5 2083.7,1712.3 2094.6,1721.8 2105,1732" fill="none" stroke="#2962ff" stroke-width="2" stroke-linejoin="round"/>
<polyline points="2505,1728 2518,1721.8 2537.9,1712.3 2552.8,1695.4 2567.7,1679.6 2582.5,1653.8 2598.4,1633.9 2613.3,1621 2628.2,1609.1 2643.1,1602.8 2657.9,1595.2 2673.8,1598.6 2688.7,1608.1 2703.6,1611.7 2719.4,1617.7 2735.3,1617.5 2749.2,1617.5 2764.1,1617.1 2779.4,1613.7 2794.8,1615.5 2809.7,1616.1 2824.6,1618.5 2839.5,1622 2855.4,1623 2870.2,1620 2885.1,1617.1 2900,1614.1 2915.9,1605.5 2931,1593.9" fill="none" stroke="#2962ff" stroke-width="2" stroke-linejoin="round"/>
<polyline points="20.4,1672.6 29.8,1599 40.7,1509 43,1490" fill="none" stroke="#f23645" stroke-width="2" stroke-linejoin="round"/>
<polyline points="270,1495 273.8,1509 297.6,1547.6 317.5,1587.3 337.3,1629 357.1,1668.7 377,1698.4 391.9,1721.8 400,1735" fill="none" stroke="#f23645" stroke-width="2" stroke-linejoin="round"/>
<polyline points="1205,1724 1217,1721.6 1228,1721.2 1238,1721.8 1245,1724" fill="none" stroke="#f23645" stroke-width="2" stroke-linejoin="round"/>
<polyline points="1455,1727 1463.8,1721.8 1478.7,1714.3 1494,1708.7 1508.5,1705.8 1538.2,1705 1553.5,1705 1583.8,1702.4 1598.7,1702 1613.6,1702.8 1644.4,1704 1658.3,1703 1674.1,1700.4 1689.6,1693.5 1705.5,1687.1 1719.8,1683.5 1735.6,1680.6 1749.5,1677.6 1781.3,1673.2 1811,1670.2 1840.8,1666.3 1871.5,1661.7 1886.4,1658.1 1902.3,1651.8 1917.2,1646.8 1939.8,1639.9 1961.7,1631.9 1977.5,1627.6 1992.4,1624 2007.3,1621 2024.2,1618.7 2039,1624 2053.9,1632.9 2068.8,1645.8 2083.7,1657.7 2098.6,1671.6 2113.5,1683.5 2128.3,1695.4 2143.2,1704.4 2158.1,1712.3 2173,1719.2 2185.9,1721.8 2195,1725" fill="none" stroke="#f23645" stroke-width="2" stroke-linejoin="round"/>
<polyline points="2550,1728 2559.7,1721.8 2567.7,1717.9 2582.5,1705.4 2598.4,1691.5 2613.3,1677.6 2628.2,1662.7 2643.1,1651.2 2657.9,1639.9 2673.8,1631.9 2688.7,1627 2703.6,1624.2 2719.4,1623 2735.3,1621.6 2749.2,1620.8 2764.1,1620 2779.4,1618.7 2794.8,1618.1 2824.6,1618.5 2855.4,1619.6 2885.1,1619 2900,1618.1 2915.9,1615.2 2931,1610.9" fill="none" stroke="#f23645" stroke-width="2" stroke-linejoin="round"/>
</g>
<line x1="21" y1="1294" x2="3229" y2="1294" stroke="#e0e3eb" stroke-width="2"/>
<line x1="21" y1="1508" x2="3229" y2="1508" stroke="#e0e3eb" stroke-width="2"/>
<line x1="21" y1="1723" x2="3229" y2="1723" stroke="#f9f9fa" stroke-width="2"/>
<line x1="3087" y1="55" x2="3087" y2="1777" stroke="#f9f9fa" stroke-width="2"/>
<text x="36.2" y="94.2" font-size="24" fill="#131722" textLength="203" lengthAdjust="spacingAndGlyphs">Pi Network/Tether</text>
<text x="244.3" y="94.2" font-size="24" fill="#131722" textLength="9" lengthAdjust="spacingAndGlyphs">·</text>
<text x="258.6" y="94.2" font-size="24" fill="#131722" textLength="29.5" lengthAdjust="spacingAndGlyphs">1D</text>
<text x="293.7" y="94.2" font-size="24" fill="#131722" textLength="9" lengthAdjust="spacingAndGlyphs">·</text>
<text x="307.7" y="94.2" font-size="24" fill="#131722" textLength="51.5" lengthAdjust="spacingAndGlyphs">OKX</text>
<text x="372.3" y="94.2" font-size="24" fill="#131722" textLength="95.5" lengthAdjust="spacingAndGlyphs">O0.2410</text>
<text x="480.4" y="94.2" font-size="24" fill="#131722" textLength="98" lengthAdjust="spacingAndGlyphs">H0.2524</text>
<text x="591.5" y="94.2" font-size="24" fill="#131722" textLength="90" lengthAdjust="spacingAndGlyphs">L0.2371</text>
<text x="693.8" y="94.2" font-size="24" fill="#131722" textLength="98.5" lengthAdjust="spacingAndGlyphs">C0.2508</text>
<text x="805.2" y="94.2" font-size="24" fill="#131722" textLength="207" lengthAdjust="spacingAndGlyphs">+0.0097 (+4.02%)</text>
<text x="35.7" y="128.2" font-size="24" fill="#131722" textLength="52" lengthAdjust="spacingAndGlyphs">EMA</text>
<text x="94.2" y="128.2" font-size="24" fill="#131722" textLength="167.5" lengthAdjust="spacingAndGlyphs">20/50/100/200</text>
<text x="275.5" y="128.2" font-size="24" fill="#ff8000" textLength="77" lengthAdjust="spacingAndGlyphs">0.2431</text>
<text x="365.7" y="128.2" font-size="24" fill="#0000ff" textLength="79" lengthAdjust="spacingAndGlyphs">0.4750</text>
<text x="35.8" y="1335.2" font-size="24" fill="#131722" textLength="161" lengthAdjust="spacingAndGlyphs">RSI (14, close)</text>
<text x="211.2" y="1335.2" font-size="24" fill="#7e57c2" textLength="66.5" lengthAdjust="spacingAndGlyphs">62.09</text>
<text x="290.8" y="1335.2" font-size="24" fill="#fdd835" textLength="63.5" lengthAdjust="spacingAndGlyphs">48.61</text>
<text x="35.3" y="1549.2" font-size="24" fill="#131722" textLength="237.5" lengthAdjust="spacingAndGlyphs">MACD (12, 26, close)</text>
<text x="287.7" y="1549.2" font-size="24" fill="#26a69a" textLength="80" lengthAdjust="spacingAndGlyphs">0.0029</text>
<text x="381.5" y="1549.2" font-size="24" fill="#2962ff" textLength="81" lengthAdjust="spacingAndGlyphs">0.0008</text>
<text x="476" y="1549.2" font-size="24" fill="#f23645" textLength="95" lengthAdjust="spacingAndGlyphs">−0.0022</text>
<text x="328" y="1760.3" font-size="24.5" fill="#131722" font-weight="700" text-anchor="middle">Jun</text>
<text x="782" y="1760.3" font-size="24.5" fill="#131722" font-weight="700" text-anchor="middle">Jul</text>
<text x="1251" y="1760.3" font-size="24.5" fill="#131722" font-weight="700" text-anchor="middle">Aug</text>
<text x="1720" y="1760.3" font-size="24.5" fill="#131722" font-weight="700" text-anchor="middle">Sep</text>
<text x="2174" y="1760.3" font-size="24.5" fill="#131722" font-weight="700" text-anchor="middle">Oct</text>
<text x="2643" y="1760.3" font-size="24.5" fill="#131722" font-weight="700" text-anchor="middle">Nov</text>
<g clip-path="url(#cax)">
<text x="3104.2" y="232" font-size="24" fill="#131722" textLength="82" lengthAdjust="spacingAndGlyphs">1.5000</text>
<text x="3104.2" y="292.7" font-size="24" fill="#131722" textLength="82" lengthAdjust="spacingAndGlyphs">1.3000</text>
<text x="3104.2" y="363.6" font-size="24" fill="#131722" textLength="82" lengthAdjust="spacingAndGlyphs">1.1000</text>
<text x="3104.2" y="426.1" font-size="24" fill="#131722" textLength="82" lengthAdjust="spacingAndGlyphs">0.9500</text>
<text x="3104.2" y="498.7" font-size="24" fill="#131722" textLength="82" lengthAdjust="spacingAndGlyphs">0.8000</text>
<text x="3104.2" y="657.5" font-size="24" fill="#131722" textLength="82" lengthAdjust="spacingAndGlyphs">0.5500</text>
<text x="3104.2" y="743.1" font-size="24" fill="#131722" textLength="82" lengthAdjust="spacingAndGlyphs">0.4500</text>
<text x="3104.2" y="803.7" font-size="24" fill="#131722" textLength="82" lengthAdjust="spacingAndGlyphs">0.3900</text>
<text x="3104.2" y="874.5" font-size="24" fill="#131722" textLength="82" lengthAdjust="spacingAndGlyphs">0.3300</text>
<text x="3104.2" y="1347.7" font-size="24" fill="#131722" textLength="67" lengthAdjust="spacingAndGlyphs">75.00</text>
<text x="3104.2" y="1477.5" font-size="24" fill="#131722" textLength="67" lengthAdjust="spacingAndGlyphs">25.00</text>
<text x="3104.2" y="1723.9" font-size="24" fill="#131722" textLength="98" lengthAdjust="spacingAndGlyphs">−0.0200</text>
<path d="M3088,127.2H3194a4,4 0 0 1 4,4V156.8a4,4 0 0 1 -4,4H3088z" fill="#e3effd"/>
<text x="3104.2" y="152.1" font-size="24" fill="#131722" textLength="82" lengthAdjust="spacingAndGlyphs">1.6700</text>
<path d="M3088,161.2H3194a4,4 0 0 1 4,4V190.8a4,4 0 0 1 -4,4H3088z" fill="#673ab7"/>
<text x="3104.2" y="186.1" font-size="24" fill="#fff" textLength="82" lengthAdjust="spacingAndGlyphs">1.6700</text>
<path d="M3088,288.3H3194a4,4 0 0 1 4,4V317.7a4,4 0 0 1 -4,4H3088z" fill="#673ab7"/>
<text x="3104.2" y="313.1" font-size="24" fill="#fff" textLength="82" lengthAdjust="spacingAndGlyphs">1.2375</text>
<path d="M3088,438.4H3194a4,4 0 0 1 4,4V467.6a4,4 0 0 1 -4,4H3088z" fill="#673ab7"/>
<text x="3104.2" y="463.1" font-size="24" fill="#fff" textLength="82" lengthAdjust="spacingAndGlyphs">0.8686</text>
<path d="M3088,555H3194a4,4 0 0 1 4,4V584.6a4,4 0 0 1 -4,4H3088z" fill="#673ab7"/>
<text x="3104.2" y="579.9" font-size="24" fill="#fff" textLength="82" lengthAdjust="spacingAndGlyphs">0.6600</text>
<path d="M3088,661.6H3194a4,4 0 0 1 4,4V691a4,4 0 0 1 -4,4H3088z" fill="#673ab7"/>
<text x="3104.2" y="686.4" font-size="24" fill="#fff" textLength="82" lengthAdjust="spacingAndGlyphs">0.5032</text>
<path d="M3088,695.2H3194a4,4 0 0 1 4,4V724.6a4,4 0 0 1 -4,4H3088z" fill="#0000ff"/>
<text x="3104.2" y="720" font-size="24" fill="#fff" textLength="82" lengthAdjust="spacingAndGlyphs">0.4750</text>
<path d="M3088,769H3194a4,4 0 0 1 4,4V799a4,4 0 0 1 -4,4H3088z" fill="#000"/>
<text x="3104.2" y="794.1" font-size="24" fill="#fff" textLength="82" lengthAdjust="spacingAndGlyphs">0.3987</text>
<path d="M3088,860.2H3194a4,4 0 0 1 4,4V890a4,4 0 0 1 -4,4H3088z" fill="#000"/>
<text x="3104.2" y="885.2" font-size="24" fill="#fff" textLength="82" lengthAdjust="spacingAndGlyphs">0.3220</text>
<path d="M3088,932.2H3194a4,4 0 0 1 4,4V962a4,4 0 0 1 -4,4H3088z" fill="#000"/>
<text x="3104.2" y="957.2" font-size="24" fill="#fff" textLength="82" lengthAdjust="spacingAndGlyphs">0.2643</text>
<path d="M3088,966.2H3216a4,4 0 0 1 4,4V1024a4,4 0 0 1 -4,4H3088z" fill="#d1d4dc"/>
<text x="3104.2" y="991.3" font-size="24" fill="#000" textLength="82" lengthAdjust="spacingAndGlyphs">0.2508</text>
<text x="3105.5" y="1019.2" font-size="24" fill="#434651" textLength="103" lengthAdjust="spacingAndGlyphs">19:43:10</text>
<path d="M3088,1028.2H3194a4,4 0 0 1 4,4V1057.8a4,4 0 0 1 -4,4H3088z" fill="#ff8000"/>
<text x="3104.2" y="1053.1" font-size="24" fill="#fff" textLength="82" lengthAdjust="spacingAndGlyphs">0.2431</text>
<path d="M3088,1062.2H3194a4,4 0 0 1 4,4V1091.8a4,4 0 0 1 -4,4H3088z" fill="#000"/>
<text x="3104.2" y="1087.1" font-size="24" fill="#fff" textLength="82" lengthAdjust="spacingAndGlyphs">0.2295</text>
<path d="M3088,1096.1H3194a4,4 0 0 1 4,4V1125.8a4,4 0 0 1 -4,4H3088z" fill="#000"/>
<text x="3104.2" y="1121" font-size="24" fill="#fff" textLength="82" lengthAdjust="spacingAndGlyphs">0.1996</text>
<path d="M3088,1130.1H3194a4,4 0 0 1 4,4V1160a4,4 0 0 1 -4,4H3088z" fill="#000"/>
<text x="3104.2" y="1155.1" font-size="24" fill="#fff" textLength="82" lengthAdjust="spacingAndGlyphs">0.1919</text>
<path d="M3088,1164.5H3194a4,4 0 0 1 4,4V1194a4,4 0 0 1 -4,4H3088z" fill="#e040fb"/>
<text x="3104.2" y="1189.3" font-size="24" fill="#fff" textLength="82" lengthAdjust="spacingAndGlyphs">0.1842</text>
<path d="M3088,1198.3H3194a4,4 0 0 1 4,4V1227.8a4,4 0 0 1 -4,4H3088z" fill="#9e9e9e"/>
<text x="3104.2" y="1223.1" font-size="24" fill="#000" textLength="82" lengthAdjust="spacingAndGlyphs">0.1533</text>
<path d="M3088,1232.5H3194a4,4 0 0 1 4,4V1261.8a4,4 0 0 1 -4,4H3088z" fill="#e3effd"/>
<text x="3104.2" y="1257.2" font-size="24" fill="#131722" textLength="82" lengthAdjust="spacingAndGlyphs">0.1533</text>
<path d="M3088,1355.7H3178a4,4 0 0 1 4,4V1385.2a4,4 0 0 1 -4,4H3088z" fill="#7e57c2"/>
<text x="3104.2" y="1380.5" font-size="24" fill="#fff" textLength="67" lengthAdjust="spacingAndGlyphs">62.09</text>
<path d="M3088,1390.2H3178a4,4 0 0 1 4,4V1420.2a4,4 0 0 1 -4,4H3088z" fill="#fdd835"/>
<text x="3104.2" y="1415.3" font-size="24" fill="#000" textLength="67" lengthAdjust="spacingAndGlyphs">48.61</text>
<path d="M3088,1565.2H3194a4,4 0 0 1 4,4V1594.8a4,4 0 0 1 -4,4H3088z" fill="#26a69a"/>
<text x="3104.2" y="1590.1" font-size="24" fill="#fff" textLength="82" lengthAdjust="spacingAndGlyphs">0.0029</text>
<path d="M3088,1599H3194a4,4 0 0 1 4,4V1628.8a4,4 0 0 1 -4,4H3088z" fill="#2962ff"/>
<text x="3104.2" y="1624" font-size="24" fill="#fff" textLength="82" lengthAdjust="spacingAndGlyphs">0.0008</text>
<path d="M3088,1633H3208a4,4 0 0 1 4,4V1662.8a4,4 0 0 1 -4,4H3088z" fill="#f23645"/>
<text x="3104.2" y="1658" font-size="24" fill="#fff" textLength="98" lengthAdjust="spacingAndGlyphs">−0.0022</text>
</g>
<path d="M3020.3,127.2H3086V160.8H3020.3a4,4 0 0 1 -4,-4V131.2a4,4 0 0 1 4,-4z" fill="#e3effd"/>
<text x="3025.6" y="152.1" font-size="24" fill="#131722" textLength="53" lengthAdjust="spacingAndGlyphs">High</text>
<path d="M3028,1232.5H3086V1265.8H3028a4,4 0 0 1 -4,-4V1236.5a4,4 0 0 1 4,-4z" fill="#e3effd"/>
<text x="3032.6" y="1257.3" font-size="24" fill="#131722" textLength="45" lengthAdjust="spacingAndGlyphs">Low</text>
<rect x="3094.5" y="62.5" width="127" height="52" rx="9" fill="#fff" stroke="#f1f1f3" stroke-width="1.6"/>
<text x="3112" y="96.4" font-size="24" fill="#000" textLength="65.5" lengthAdjust="spacingAndGlyphs">USDT</text>
<g fill="#131313">
<path d="M23.8,1821.9H47.9V1851.9H36V1834.1H23.8z"/>
<circle cx="57.9" cy="1827.9" r="6"/>
<path d="M69,1821.9H83.8L72.2,1851.9H57.9z"/>
</g>
<text x="96.5" y="1851.9" font-size="42" fill="#131313" font-weight="700" textLength="244.5" lengthAdjust="spacingAndGlyphs">TradingView</text>
</svg></body></html>
